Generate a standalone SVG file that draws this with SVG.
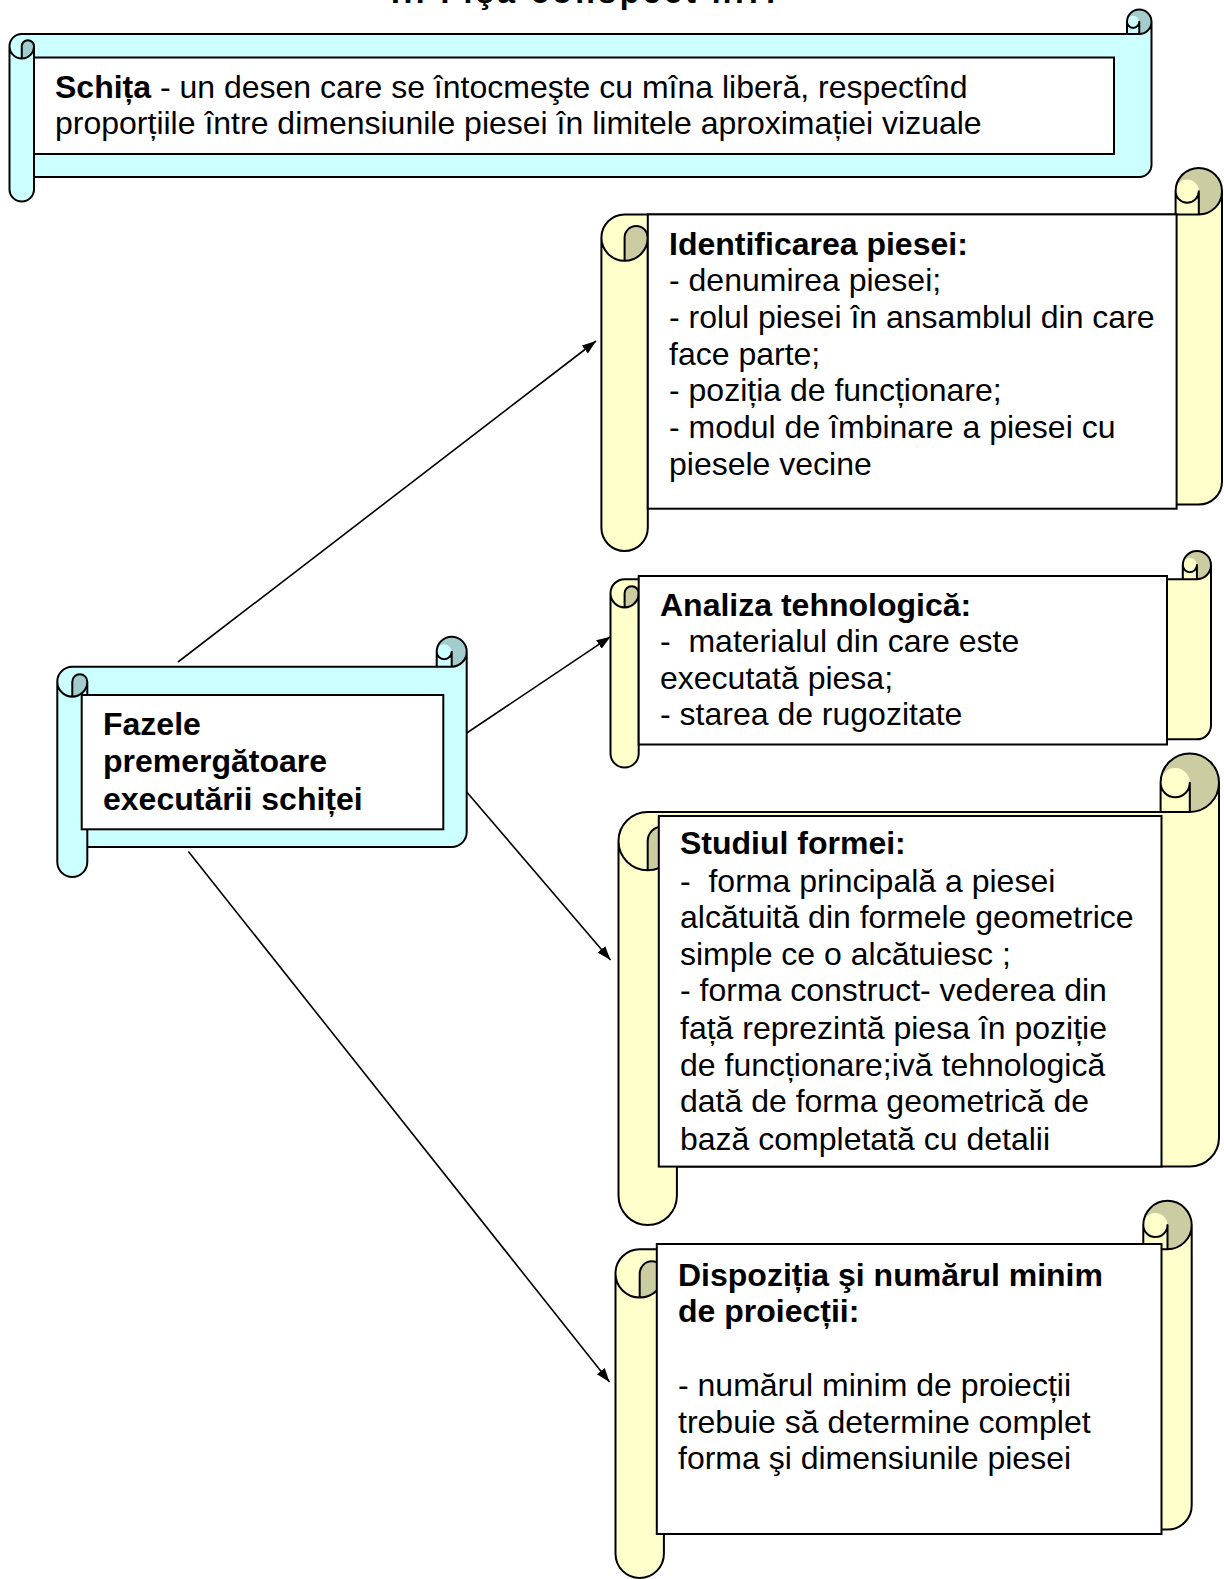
<svg xmlns="http://www.w3.org/2000/svg" width="1224" height="1579" viewBox="0 0 1224 1579">
<style>
.t{font-family:"Liberation Sans",Arial,sans-serif;font-size:32px;fill:#000}
.b{font-weight:bold}
.cy{fill:#CCFFFF}
.cyd{fill:#A3CCCC}
.ye{fill:#FFFFCC}
.yed{fill:#CCCCA3}
.ln{fill:none;stroke:#000;stroke-width:2;stroke-linejoin:round}
.box{fill:#FFFFFF;stroke:#000;stroke-width:2}
.con{fill:none;stroke:#000;stroke-width:1.6}
</style>
<defs>
<marker id="arr" markerUnits="userSpaceOnUse" markerWidth="16" markerHeight="12" refX="14" refY="6" orient="auto">
<path d="M0,1 L14,6 L0,11 Z" fill="#000"/>
</marker>
</defs>
<rect width="1224" height="1579" fill="#FFFFFF"/>
<text class="t b" x="391" y="3" font-size="36" textLength="390" lengthAdjust="spacing">II. Fişa conspect nr.?</text>

<g id="schita">
<path class="cy" d="M9.5,46.25 A12.25,12.25 0 0 1 21.75,34 L1127,34 L1127,21.75 A12.25,12.25 0 0 1 1151.5,21.75 L1151.5,164.75 A12.25,12.25 0 0 1 1139.25,177 L34,177 L34,189.25 A12.25,12.25 0 0 1 9.5,189.25 Z"/>
<path class="cyd" d="M21.75,58.5 A12.25,12.25 0 0 0 34,46.25 A6.125,6.125 0 0 0 21.75,46.25 Z M1139.25,34 A12.25,12.25 0 1 0 1127,21.75 A6.125,6.125 0 0 1 1139.25,21.75 Z"/>
<path class="ln" d="M9.5,46.25 A12.25,12.25 0 0 1 21.75,34 L1127,34 L1127,21.75 A12.25,12.25 0 0 1 1151.5,21.75 L1151.5,164.75 A12.25,12.25 0 0 1 1139.25,177 L34,177 L34,189.25 A12.25,12.25 0 0 1 9.5,189.25 Z M1127,34 L1139.25,34 A12.25,12.25 0 0 0 1151.5,21.75 M1139.25,34 L1139.25,21.75 A6.125,6.125 0 0 1 1127,21.75 M21.75,58.5 L21.75,46.25 A6.125,6.125 0 0 1 34,46.25 A12.25,12.25 0 0 1 9.5,46.25 M34,46.25 L34,177"/>
<rect class="box" x="34" y="57.5" width="1080" height="96.5"/>
<text class="t" x="55" y="98"><tspan class="b">Schița</tspan> - un desen care se întocmeşte cu mîna liberă, respectînd</text>
<text class="t" x="55" y="134">proporțiile între dimensiunile piesei în limitele aproximației vizuale</text>
</g>

<g id="fazele">
<path class="cy" d="M57.3,681.7 A15,15 0 0 1 72.3,666.7 L436.7,666.7 L436.7,651.7 A15,15 0 0 1 466.7,651.7 L466.7,832 A15,15 0 0 1 451.7,847 L87.3,847 L87.3,862 A15,15 0 0 1 57.3,862 Z"/>
<path class="cyd" d="M72.3,696.7 A15,15 0 0 0 87.3,681.7 A7.5,7.5 0 0 0 72.3,681.7 Z M451.7,666.7 A15,15 0 1 0 436.7,651.7 A7.5,7.5 0 0 1 451.7,651.7 Z"/>
<path class="ln" d="M57.3,681.7 A15,15 0 0 1 72.3,666.7 L436.7,666.7 L436.7,651.7 A15,15 0 0 1 466.7,651.7 L466.7,832 A15,15 0 0 1 451.7,847 L87.3,847 L87.3,862 A15,15 0 0 1 57.3,862 Z M436.7,666.7 L451.7,666.7 A15,15 0 0 0 466.7,651.7 M451.7,666.7 L451.7,651.7 A7.5,7.5 0 0 1 436.7,651.7 M72.3,696.7 L72.3,681.7 A7.5,7.5 0 0 1 87.3,681.7 A15,15 0 0 1 57.3,681.7 M87.3,681.7 L87.3,847"/>
<rect class="box" x="81.7" y="695" width="361.6" height="134.3"/>
<text class="t b" x="103" y="735">Fazele</text>
<text class="t b" x="103" y="772">premergătoare</text>
<text class="t b" x="103" y="810">executării schiței</text>
</g>

<g id="identificarea">
<path class="ye" d="M601.4,237.6 A23.2,23.2 0 0 1 624.6,214.4 L1175.6,214.4 L1175.6,191.2 A23.2,23.2 0 0 1 1222,191.2 L1222,481.4 A23.2,23.2 0 0 1 1198.8,504.6 L647.8,504.6 L647.8,527.8 A23.2,23.2 0 0 1 601.4,527.8 Z"/>
<path class="yed" d="M624.6,260.8 A23.2,23.2 0 0 0 647.8,237.6 A11.6,11.6 0 0 0 624.6,237.6 Z M1198.8,214.4 A23.2,23.2 0 1 0 1175.6,191.2 A11.6,11.6 0 0 1 1198.8,191.2 Z"/>
<path class="ln" d="M601.4,237.6 A23.2,23.2 0 0 1 624.6,214.4 L1175.6,214.4 L1175.6,191.2 A23.2,23.2 0 0 1 1222,191.2 L1222,481.4 A23.2,23.2 0 0 1 1198.8,504.6 L647.8,504.6 L647.8,527.8 A23.2,23.2 0 0 1 601.4,527.8 Z M1175.6,214.4 L1198.8,214.4 A23.2,23.2 0 0 0 1222,191.2 M1198.8,214.4 L1198.8,191.2 A11.6,11.6 0 0 1 1175.6,191.2 M624.6,260.8 L624.6,237.6 A11.6,11.6 0 0 1 647.8,237.6 A23.2,23.2 0 0 1 601.4,237.6 M647.8,237.6 L647.8,504.6"/>
<rect class="box" x="647.8" y="214.4" width="528.8" height="294.3"/>
<text class="t b" x="669" y="255">Identificarea piesei:</text>
<text class="t" x="669" y="291">- denumirea piesei;</text>
<text class="t" x="669" y="328">- rolul piesei în ansamblul din care</text>
<text class="t" x="669" y="365">face parte;</text>
<text class="t" x="669" y="401">- poziția de funcționare;</text>
<text class="t" x="669" y="438">- modul de îmbinare a piesei cu</text>
<text class="t" x="669" y="474.5">piesele vecine</text>
</g>

<g id="analiza">
<path class="ye" d="M610.5,593.3 A14.1,14.1 0 0 1 624.6,579.2 L1182.8,579.2 L1182.8,565.1 A14.1,14.1 0 0 1 1211,565.1 L1211,725.2 A14.1,14.1 0 0 1 1196.9,739.3 L638.7,739.3 L638.7,753.4 A14.1,14.1 0 0 1 610.5,753.4 Z"/>
<path class="yed" d="M624.6,607.4 A14.1,14.1 0 0 0 638.7,593.3 A7.05,7.05 0 0 0 624.6,593.3 Z M1196.9,579.2 A14.1,14.1 0 1 0 1182.8,565.1 A7.05,7.05 0 0 1 1196.9,565.1 Z"/>
<path class="ln" d="M610.5,593.3 A14.1,14.1 0 0 1 624.6,579.2 L1182.8,579.2 L1182.8,565.1 A14.1,14.1 0 0 1 1211,565.1 L1211,725.2 A14.1,14.1 0 0 1 1196.9,739.3 L638.7,739.3 L638.7,753.4 A14.1,14.1 0 0 1 610.5,753.4 Z M1182.8,579.2 L1196.9,579.2 A14.1,14.1 0 0 0 1211,565.1 M1196.9,579.2 L1196.9,565.1 A7.05,7.05 0 0 1 1182.8,565.1 M624.6,607.4 L624.6,593.3 A7.05,7.05 0 0 1 638.7,593.3 A14.1,14.1 0 0 1 610.5,593.3 M638.7,593.3 L638.7,739.3"/>
<rect class="box" x="638.7" y="576" width="528.3" height="168.5"/>
<text class="t b" x="660" y="615.5">Analiza tehnologică:</text>
<text class="t" x="660" y="652" xml:space="preserve">-  materialul din care este</text>
<text class="t" x="660" y="689">executată piesa;</text>
<text class="t" x="660" y="725">- starea de rugozitate</text>
</g>

<g id="studiul">
<path class="ye" d="M618.5,841.1 A29.2,29.2 0 0 1 647.7,811.9 L1160.6,811.9 L1160.6,782.7 A29.2,29.2 0 0 1 1219,782.7 L1219,1137.4 A29.2,29.2 0 0 1 1189.8,1166.6 L676.9,1166.6 L676.9,1195.8 A29.2,29.2 0 0 1 618.5,1195.8 Z"/>
<path class="yed" d="M647.7,870.3 A29.2,29.2 0 0 0 676.9,841.1 A14.6,14.6 0 0 0 647.7,841.1 Z M1189.8,811.9 A29.2,29.2 0 1 0 1160.6,782.7 A14.6,14.6 0 0 1 1189.8,782.7 Z"/>
<path class="ln" d="M618.5,841.1 A29.2,29.2 0 0 1 647.7,811.9 L1160.6,811.9 L1160.6,782.7 A29.2,29.2 0 0 1 1219,782.7 L1219,1137.4 A29.2,29.2 0 0 1 1189.8,1166.6 L676.9,1166.6 L676.9,1195.8 A29.2,29.2 0 0 1 618.5,1195.8 Z M1160.6,811.9 L1189.8,811.9 A29.2,29.2 0 0 0 1219,782.7 M1189.8,811.9 L1189.8,782.7 A14.6,14.6 0 0 1 1160.6,782.7 M647.7,870.3 L647.7,841.1 A14.6,14.6 0 0 1 676.9,841.1 A29.2,29.2 0 0 1 618.5,841.1 M676.9,841.1 L676.9,1166.6"/>
<rect class="box" x="658.8" y="816" width="502.7" height="350.6"/>
<text class="t b" x="680" y="854">Studiul formei:</text>
<text class="t" x="680" y="891.5" xml:space="preserve">-  forma principală a piesei</text>
<text class="t" x="680" y="928">alcătuită din formele geometrice</text>
<text class="t" x="680" y="965">simple ce o alcătuiesc ;</text>
<text class="t" x="680" y="1001">- forma construct- vederea din</text>
<text class="t" x="680" y="1038.5">față reprezintă piesa în poziție</text>
<text class="t" x="680" y="1076">de funcționare;ivă tehnologică</text>
<text class="t" x="680" y="1112">dată de forma geometrică de</text>
<text class="t" x="680" y="1149.5">bază completată cu detalii</text>
</g>

<g id="dispozitia">
<path class="ye" d="M615.5,1273.4 A24.2,24.2 0 0 1 639.7,1249.2 L1143.3,1249.2 L1143.3,1225 A24.2,24.2 0 0 1 1191.7,1225 L1191.7,1505.4 A24.2,24.2 0 0 1 1167.5,1529.6 L663.9,1529.6 L663.9,1553.8 A24.2,24.2 0 0 1 615.5,1553.8 Z"/>
<path class="yed" d="M639.7,1297.6 A24.2,24.2 0 0 0 663.9,1273.4 A12.1,12.1 0 0 0 639.7,1273.4 Z M1167.5,1249.2 A24.2,24.2 0 1 0 1143.3,1225 A12.1,12.1 0 0 1 1167.5,1225 Z"/>
<path class="ln" d="M615.5,1273.4 A24.2,24.2 0 0 1 639.7,1249.2 L1143.3,1249.2 L1143.3,1225 A24.2,24.2 0 0 1 1191.7,1225 L1191.7,1505.4 A24.2,24.2 0 0 1 1167.5,1529.6 L663.9,1529.6 L663.9,1553.8 A24.2,24.2 0 0 1 615.5,1553.8 Z M1143.3,1249.2 L1167.5,1249.2 A24.2,24.2 0 0 0 1191.7,1225 M1167.5,1249.2 L1167.5,1225 A12.1,12.1 0 0 1 1143.3,1225 M639.7,1297.6 L639.7,1273.4 A12.1,12.1 0 0 1 663.9,1273.4 A24.2,24.2 0 0 1 615.5,1273.4 M663.9,1273.4 L663.9,1529.6"/>
<rect class="box" x="656.8" y="1244" width="504.7" height="290"/>
<text class="t b" x="678" y="1285.5">Dispoziția şi numărul minim</text>
<text class="t b" x="678" y="1321.5">de proiecții:</text>
<text class="t" x="678" y="1396">- numărul minim de proiecții</text>
<text class="t" x="678" y="1432.5">trebuie să determine complet</text>
<text class="t" x="678" y="1469">forma şi dimensiunile piesei</text>
</g>

<g id="connectors">
<line class="con" x1="178" y1="662" x2="596" y2="341" marker-end="url(#arr)"/>
<line class="con" x1="466.7" y1="733" x2="610.5" y2="636.7" marker-end="url(#arr)"/>
<line class="con" x1="466.7" y1="792" x2="610.5" y2="960" marker-end="url(#arr)"/>
<line class="con" x1="188.4" y1="851.5" x2="609.5" y2="1382" marker-end="url(#arr)"/>
</g>
</svg>
